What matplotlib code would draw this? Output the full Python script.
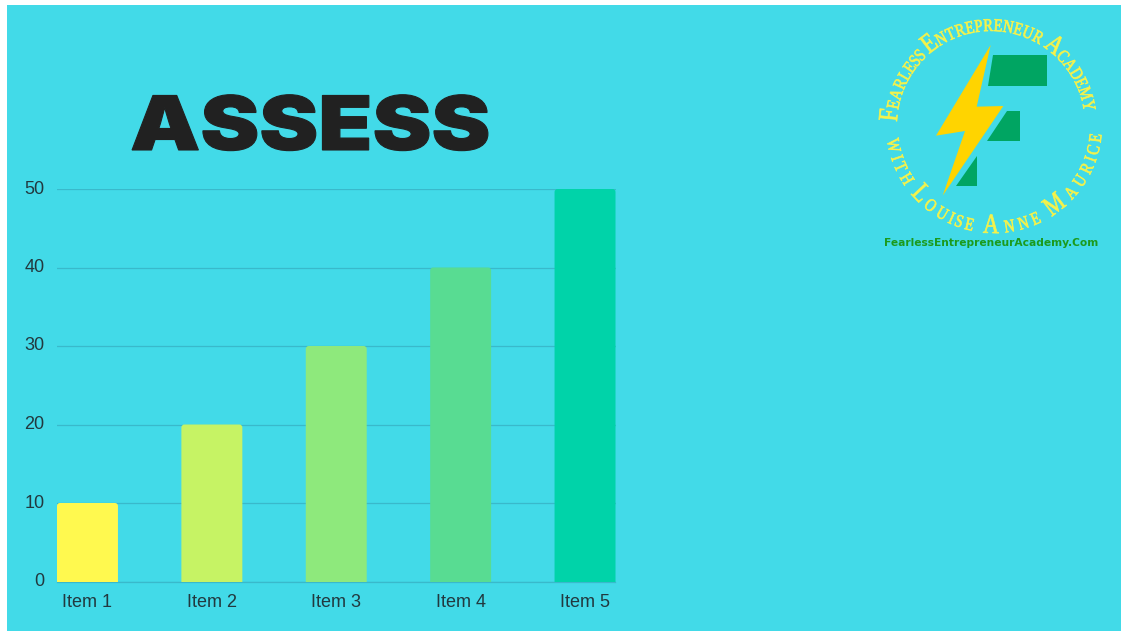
import numpy as np
import matplotlib
matplotlib.use("Agg")
import matplotlib.pyplot as plt
from matplotlib.patches import FancyBboxPatch, Polygon, Rectangle
from matplotlib.textpath import TextPath
from matplotlib.font_manager import FontProperties
from matplotlib.transforms import Affine2D
import matplotlib.patheffects as pe

categories = ["Item 1", "Item 2", "Item 3", "Item 4", "Item 5"]
values = [10, 20, 30, 40, 50]
bar_colors = ["#FFF94F", "#C6F364", "#8EE97C", "#58DC92", "#00D3A9"]
y_ticks = [0, 10, 20, 30, 40, 50]
title = "ASSESS"
ring_top = "Fearless Entrepreneur Academy"
ring_bottom = "with Louise Anne Maurice"
url = "FearlessEntrepreneurAcademy.Com"

W, H = 1121, 631
BG = "#42DAE8"
fig = plt.figure(figsize=(W / 100, H / 100), dpi=100, facecolor="white")

bg = fig.add_axes([0, 0, 1, 1])
bg.set_xlim(0, W); bg.set_ylim(H, 0); bg.axis("off")
bg.add_patch(Rectangle((7, 5), W - 7, H - 5, fc=BG, ec="none"))


class Stretch(pe.AbstractPathEffect):
    """Scale a text's glyphs along its own direction about an anchor pixel."""

    def __init__(self, px, py, sx, rot=0, lw=0, color=None, join="miter"):
        super().__init__()
        self.dx, self.dy = px, H - py
        self.sx, self.rot, self.lw, self.color, self.join = sx, rot, lw, color, join

    def draw_path(self, renderer, gc, tpath, affine, rgbFace=None):
        t = affine + (Affine2D().translate(-self.dx, -self.dy).rotate_deg(-self.rot)
                      .scale(self.sx, 1).rotate_deg(self.rot).translate(self.dx, self.dy))
        if self.lw:
            gc0 = renderer.new_gc()
            gc0.copy_properties(gc)
            gc0.set_linewidth(self.lw)
            gc0.set_foreground(self.color)
            gc0.set_joinstyle(self.join)
            renderer.draw_path(gc0, tpath, t, rgbFace)
            gc0.restore()
        else:
            renderer.draw_path(gc, tpath, t, rgbFace)


# chart
L, R, T, B = 57, 615.5, 189, 581.5
ax = fig.add_axes([L / W, 1 - B / H, (R - L) / W, (B - T) / H])
ax.patch.set_alpha(0)
x = np.arange(len(values))
bw = 0.49
ax.set_xlim(-bw / 2, len(values) - 1 + bw / 2)
ax.set_ylim(0, 50)
px_x = (R - L) / (len(values) - 1 + bw)
px_y = (B - T) / 50
r = 3 / px_x
for xi, v, c in zip(x, values, bar_colors):
    ax.add_patch(FancyBboxPatch((xi - bw / 2, -2), bw, v + 2,
                                boxstyle=f"round,pad=0,rounding_size={r}",
                                mutation_aspect=(3 / px_y) / r,
                                fc=c, ec="none", zorder=3))
ax.set_yticks(y_ticks)
ax.set_xticks(x, categories)
ax.grid(axis="y", color="#39B9CB", lw=0.9, zorder=1)
ax.set_axisbelow(True)
for s in ["top", "right", "left"]:
    ax.spines[s].set_visible(False)
ax.spines["bottom"].set_color("#39B9CB")
ax.spines["bottom"].set_linewidth(0.9)
ax.tick_params(length=0, labelsize=13, labelcolor="#22393F", labelfontfamily="Liberation Sans")
ax.tick_params(axis="x", pad=9)
ax.tick_params(axis="y", pad=9)
for lab in ax.get_yticklabels():
    lab.set_verticalalignment("center")

# title
bg.text(310, 150, title, family="Inter", weight=900, fontsize=54,
        color="#212121", ha="center", va="baseline",
        path_effects=[Stretch(310, 150, 1.18, lw=0.8, color="#212121")], zorder=5)

# logo shapes
def zp(points):
    return [(860 + a / 3, 5 + b / 3) for a, b in points]

green = "#00A562"
bg.add_patch(Polygon(zp([(400, 150), (560, 150), (560, 243), (384, 243)]), fc=green, ec="none"))
bg.add_patch(Polygon(zp([(440, 318), (480, 318), (480, 408), (382, 408)]), fc=green, ec="none"))
bg.add_patch(Polygon(zp([(352, 453), (352, 543), (288, 543)]), fc=green, ec="none"))
bg.add_patch(Polygon(zp([(392, 120), (350, 305), (430, 303), (248, 572), (315, 378), (228, 392)]),
                     fc="#FFD400", ec="none"))

# ring text
CY = 125
YEL = "#F6F24A"
SERIF = "Liberation Serif"
BIG, SMALL = 20, 13
SQUEEZE = 0.8

def advance(ch, size):
    if ch == " ":
        return size * 0.2 * 100 / 72
    fp = FontProperties(family=SERIF)
    return TextPath((0, 0), ch, size=size * 100 / 72, prop=fp).get_extents().width * SQUEEZE + 1.2

def glyphs(s):
    return [(ch.upper(), BIG if ch.isupper() else SMALL) for ch in s]

def ring(s, cx, radius, start_deg, end_deg, top=True):
    gl = glyphs(s)
    adv = [advance(c, z) for c, z in gl]
    total = sum(adv)
    a0, a1 = np.radians(start_deg), np.radians(end_deg)
    pos = 0.0
    for (c, z), w in zip(gl, adv):
        a = a0 + (a1 - a0) * (pos + w / 2) / total
        pos += w
        if c == " ":
            continue
        px = cx + radius * np.cos(a)
        py = CY - radius * np.sin(a)
        rot = np.degrees(a) - 90 if top else np.degrees(a) + 90
        bg.text(px, py, c, family=SERIF, fontsize=z, color=YEL, rotation=rot,
                rotation_mode="anchor", ha="center", va="baseline", zorder=6,
                path_effects=[Stretch(px, py, SQUEEZE, rot=rot, lw=0.5, color=YEL, join="round")])

ring(ring_top, 991, 94, 178, 8, top=True)
ring(ring_bottom, 994, 108, 186, 356, top=False)

bg.text(991, 243.5, url, family="DejaVu Sans", weight="bold", fontsize=7.7, color="#1C9A1C",
        ha="center", va="center", zorder=6)

fig.savefig("out.png", dpi=100, facecolor="white")
